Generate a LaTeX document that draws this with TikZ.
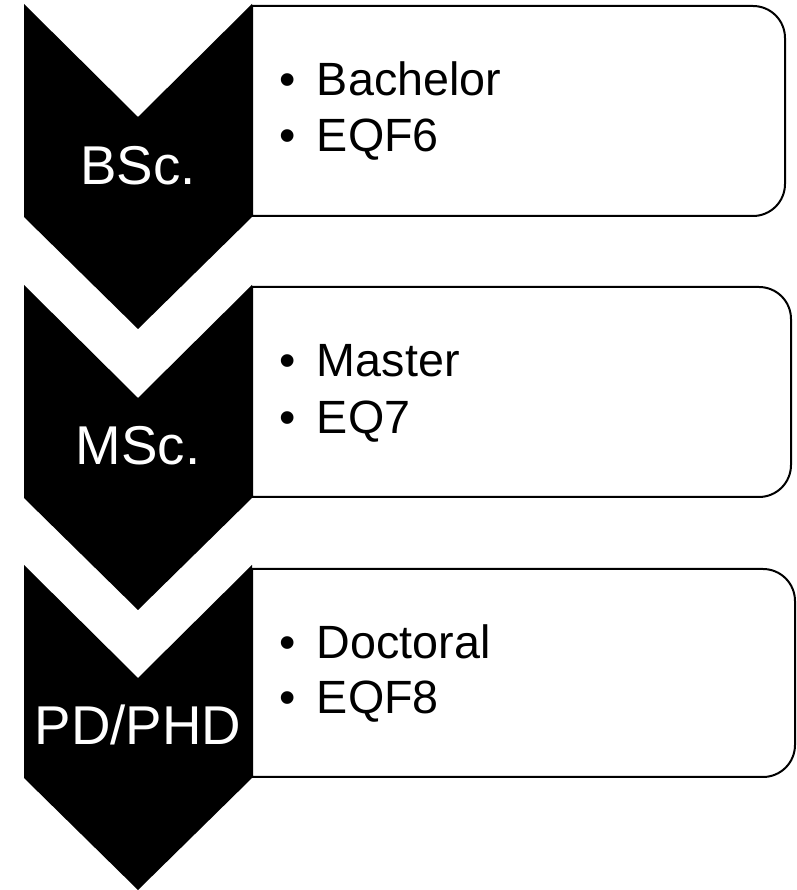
\documentclass[tikz,border=0pt]{standalone}
\usepackage{fontspec}
\setmainfont{Liberation Sans}
\begin{document}
\begin{tikzpicture}[x=0.75pt,y=0.75pt,
  chev/.style={fill=black,draw=none},
  infobox/.style={draw=black,line width=1.5pt,fill=white},
  chevlabel/.style={text=white,inner sep=0pt,anchor=base,font=\fontsize{41}{48}\selectfont},
  itemtext/.style={inner sep=0pt,anchor=base west,font=\fontsize{35}{42}\selectfont}]
\useasboundingbox (0,0) rectangle (797,890);
\def\rr{32}
% boxes (y measured from top: Y = 890 - y)
\foreach \t/\b/\r in {6/216/785, 287/497/791, 569/777/795}{
  \draw[infobox] (252,890-\t) -- (\r-\rr,890-\t) arc[start angle=90,end angle=0,radius=\rr]
     -- (\r,890-\b+\rr) arc[start angle=0,end angle=-90,radius=\rr] -- (252,890-\b) -- cycle;
}
% chevrons
\foreach \t in {4,285,565}{
  \fill[chev] (24,890-\t) -- (138,890-\t-113) -- (252,890-\t) -- (252,890-\t-213)
     -- (138,890-\t-325) -- (24,890-\t-213) -- cycle;
}
\node[chevlabel] (l1) at (138,890-185) {BSc.};
\node[chevlabel] (l2) at (138,890-465) {MSc.};
\node[chevlabel] (l3) at (138,890-745) {PD/PHD};
\node[itemtext] (a1) at (279,890-96) {\textbullet\hspace{16pt}Bachelor};
\node[itemtext] (a2) at (279,890-152) {\textbullet\hspace{16pt}EQF6};
\node[itemtext] (b1) at (279,890-377) {\textbullet\hspace{16pt}Master};
\node[itemtext] (b2) at (279,890-434) {\textbullet\hspace{16pt}EQ7};
\node[itemtext] (c1) at (279,890-659) {\textbullet\hspace{16pt}Doctoral};
\node[itemtext] (c2) at (279,890-714) {\textbullet\hspace{16pt}EQF8};
\end{tikzpicture}
\end{document}
